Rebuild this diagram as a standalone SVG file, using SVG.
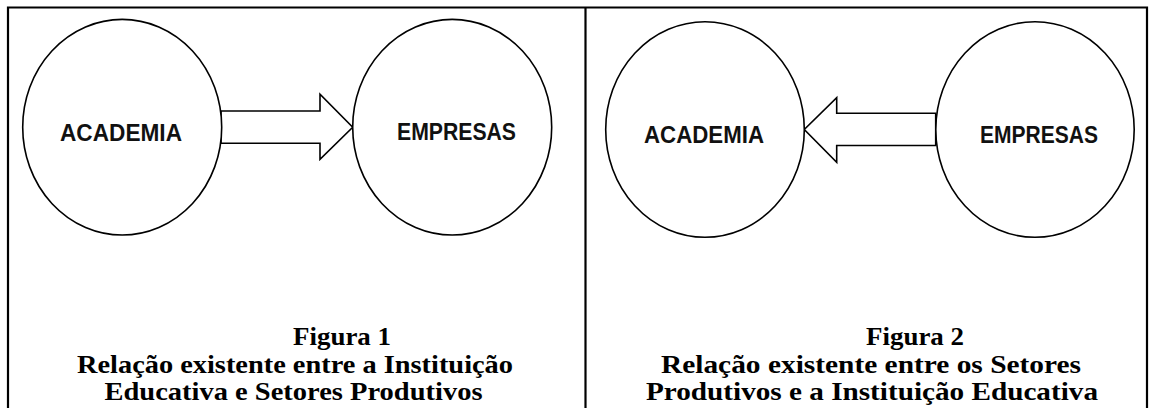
<svg xmlns="http://www.w3.org/2000/svg" width="1153" height="408" viewBox="0 0 1153 408">
<style>
.frame{fill:none;stroke:#000;stroke-width:2.2}
.node{fill:#fff;stroke:#000;stroke-width:1.6}
.arrow{fill:#fff;stroke:#000;stroke-width:1.6;stroke-linejoin:miter}
.lbl{font-family:"Liberation Sans",Arial,sans-serif;font-weight:bold;font-size:23.5px;text-anchor:middle;fill:#111}
.cap{font-family:"Liberation Serif","Times New Roman",serif;font-weight:bold;font-size:24.8px;text-anchor:middle;fill:#000}
</style>
<rect x="0" y="0" width="1153" height="408" fill="#fff"/>
<g id="frame">
<path class="frame" d="M8 420 V7.5 H1147 V420"/>
<line class="frame" x1="585.5" y1="7.5" x2="585.5" y2="420"/>
</g>
<g id="connectors">
<polygon class="arrow" points="221,111 320,111 320,94.3 352.7,127.3 320,159.3 320,143.3 221,143.3"/>
<polygon class="arrow" points="935.7,113.3 836.7,113.3 836.7,97.7 804.3,129.5 836.7,162.3 836.7,145.5 935.7,145.5"/>
</g>
<g id="fig1-academia">
<ellipse class="node" cx="122.2" cy="127.2" rx="99.5" ry="107.8"/>
<text class="lbl" x="121" y="140.5" textLength="122" lengthAdjust="spacingAndGlyphs">ACADEMIA</text>
</g>
<g id="fig1-empresas">
<ellipse class="node" cx="452.2" cy="127.2" rx="99.5" ry="107.8"/>
<text class="lbl" x="456.5" y="140" textLength="119" lengthAdjust="spacingAndGlyphs">EMPRESAS</text>
</g>
<g id="fig2-academia">
<ellipse class="node" cx="705" cy="129.5" rx="99.3" ry="107.8"/>
<text class="lbl" x="704" y="143" textLength="120" lengthAdjust="spacingAndGlyphs">ACADEMIA</text>
</g>
<g id="fig2-empresas">
<ellipse class="node" cx="1035" cy="129.5" rx="99.2" ry="107.8"/>
<text class="lbl" x="1039" y="143" textLength="118" lengthAdjust="spacingAndGlyphs">EMPRESAS</text>
</g>
<g id="caption1">
<text class="cap" x="342" y="345" textLength="98" lengthAdjust="spacingAndGlyphs">Figura 1</text>
<text class="cap" x="295" y="372.5" textLength="436" lengthAdjust="spacingAndGlyphs">Relação existente entre a Instituição</text>
<text class="cap" x="293.5" y="400" textLength="378" lengthAdjust="spacingAndGlyphs">Educativa e Setores Produtivos</text>
</g>
<g id="caption2">
<text class="cap" x="915" y="345" textLength="98" lengthAdjust="spacingAndGlyphs">Figura 2</text>
<text class="cap" x="871" y="372.5" textLength="420" lengthAdjust="spacingAndGlyphs">Relação existente entre os Setores</text>
<text class="cap" x="872" y="400" textLength="452" lengthAdjust="spacingAndGlyphs">Produtivos e a Instituição Educativa</text>
</g>
</svg>
